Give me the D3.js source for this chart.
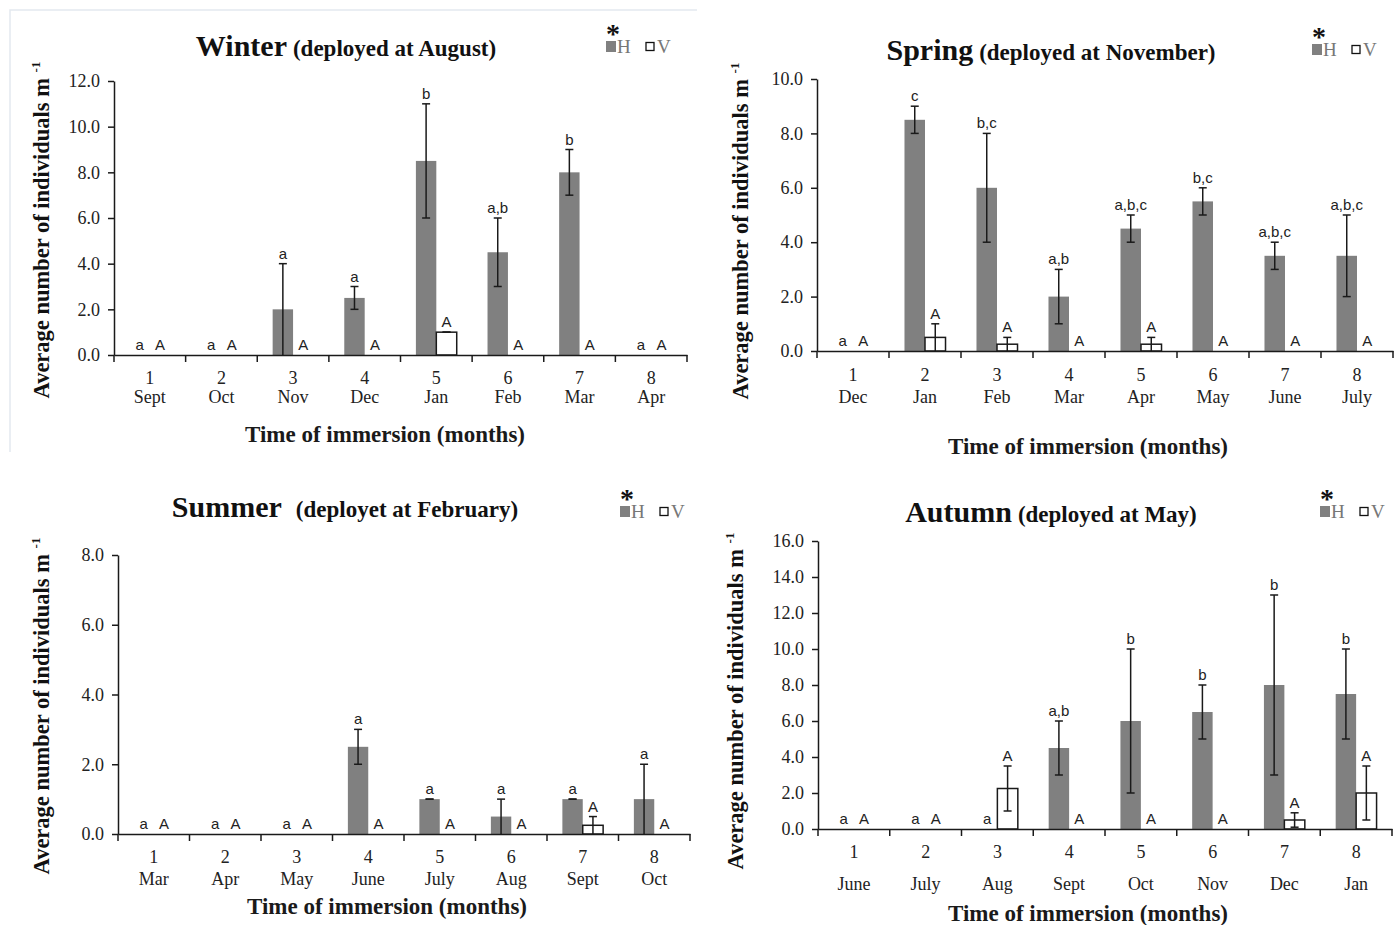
<!DOCTYPE html>
<html><head><meta charset="utf-8">
<script src="https://cdn.jsdelivr.net/npm/d3@7"></script>
<style>
body{margin:0;background:#fff;}
svg{display:block;}
</style></head><body>
<svg id="chart" width="1400" height="925"></svg>
<script>
// ---------- DATA ----------
const monthNumbers = ["1","2","3","4","5","6","7","8"];

const winterMonths = ["Sept","Oct","Nov","Dec","Jan","Feb","Mar","Apr"];
const winterH = [0,0,2,2.5,8.5,4.5,8,0];
const winterHErr = [0,0,2,0.5,2.5,1.5,1,0];
const winterV = [0,0,0,0,1,0,0,0];
const winterVErr = [0,0,0,0,0,0,0,0];
const winterHLetters = ["a","a","a","a","b","a,b","b","a"];
const winterVLetters = ["A","A","A","A","A","A","A","A"];
const winterTicks = [0,2,4,6,8,10,12];

const springMonths = ["Dec","Jan","Feb","Mar","Apr","May","June","July"];
const springH = [0,8.5,6,2,4.5,5.5,3.5,3.5];
const springHErr = [0,0.5,2,1,0.5,0.5,0.5,1.5];
const springV = [0,0.5,0.25,0,0.25,0,0,0];
const springVErr = [0,0.5,0.25,0,0.25,0,0,0];
const springHLetters = ["a","c","b,c","a,b","a,b,c","b,c","a,b,c","a,b,c"];
const springVLetters = ["A","A","A","A","A","A","A","A"];
const springTicks = [0,2,4,6,8,10];

const summerMonths = ["Mar","Apr","May","June","July","Aug","Sept","Oct"];
const summerH = [0,0,0,2.5,1,0.5,1,1];
const summerHErr = [0,0,0,0.5,0,0.5,0,1];
const summerV = [0,0,0,0,0,0,0.25,0];
const summerVErr = [0,0,0,0,0,0,0.25,0];
const summerHLetters = ["a","a","a","a","a","a","a","a"];
const summerVLetters = ["A","A","A","A","A","A","A","A"];
const summerTicks = [0,2,4,6,8];

const autumnMonths = ["June","July","Aug","Sept","Oct","Nov","Dec","Jan"];
const autumnH = [0,0,0,4.5,6,6.5,8,7.5];
const autumnHErr = [0,0,0,1.5,4,1.5,5,2.5];
const autumnV = [0,0,2.25,0,0,0,0.5,2];
const autumnVErr = [0,0,1.25,0,0,0,0.4,1.5];
const autumnHLetters = ["a","a","a","a,b","b","b","b","b"];
const autumnVLetters = ["A","A","A","A","A","A","A","A"];
const autumnTicks = [0,2,4,6,8,10,12,14,16];

// ---------- DRAWING ----------
const svg = d3.select("#chart");
const serif = '"Liberation Serif","Times New Roman",serif';
const sans = '"Liberation Sans",Arial,sans-serif';
const H_COLOR = "#808080";
const INK = "#1a1a1a";

// faint frame around the first panel
svg.append("path").attr("d","M10,452 L10,10 L697,10")
  .attr("fill","none").attr("stroke","#e4e9ef").attr("stroke-width",1.5);

function drawPanel(p) {
  const g = svg.append("g");
  const x = d3.scaleBand().domain(monthNumbers).range([p.left, p.right]);
  const y = d3.scaleLinear().domain([0, p.yMax]).range([p.bottom, p.top]);
  const bw = x.step() * 0.285;
  const cx = d => x(d) + x.bandwidth() / 2;

  const rows = monthNumbers.map((d, i) => ({
    d, h: p.H[i], he: p.HErr[i], v: p.V[i], ve: p.VErr[i],
    hl: p.HL[i], vl: p.VL[i]
  }));

  g.selectAll(".hbar").data(rows.filter(r => r.h > 0)).join("rect")
    .attr("x", r => cx(r.d) - bw).attr("width", bw)
    .attr("y", r => y(r.h)).attr("height", r => y(0) - y(r.h))
    .attr("fill", H_COLOR);

  g.selectAll(".vbar").data(rows.filter(r => r.v > 0)).join("rect")
    .attr("x", r => cx(r.d)).attr("width", bw)
    .attr("y", r => y(r.v)).attr("height", r => y(0) - y(r.v))
    .attr("fill", "#fff").attr("stroke", INK).attr("stroke-width", 1.5);

  // error bars
  const errs = [];
  rows.forEach(r => {
    if (r.h > 0) errs.push({ xc: cx(r.d) - bw / 2, lo: Math.max(0, r.h - r.he), hi: r.h + r.he });
    if (r.v > 0) errs.push({ xc: cx(r.d) + bw / 2, lo: Math.max(0, r.v - r.ve), hi: r.v + r.ve });
  });
  const eg = g.selectAll(".err").data(errs).join("g").attr("stroke", INK).attr("stroke-width", 1.5);
  eg.append("line").attr("x1", e => e.xc).attr("x2", e => e.xc).attr("y1", e => y(e.lo)).attr("y2", e => y(e.hi));
  eg.append("line").attr("x1", e => e.xc - 4).attr("x2", e => e.xc + 4).attr("y1", e => y(e.hi)).attr("y2", e => y(e.hi));
  eg.filter(e => e.lo > 0).append("line").attr("x1", e => e.xc - 4).attr("x2", e => e.xc + 4).attr("y1", e => y(e.lo)).attr("y2", e => y(e.lo));

  // letters
  const letters = [];
  rows.forEach(r => {
    letters.push({ xc: cx(r.d) - bw / 2, top: r.h > 0 ? r.h + r.he : 0, t: r.hl });
    letters.push({ xc: cx(r.d) + bw / 2, top: r.v > 0 ? r.v + r.ve : 0, t: r.vl });
  });
  g.selectAll(".lt").data(letters).join("text")
    .attr("x", l => l.xc).attr("y", l => y(l.top) - 5)
    .attr("text-anchor", "middle").attr("font-family", sans).attr("font-size", 15)
    .attr("fill", "#222").text(l => l.t);

  // y axis
  const yAxis = d3.axisLeft(y).tickValues(p.ticks).tickFormat(d3.format(".1f"))
    .tickSize(6).tickPadding(8).tickSizeOuter(0);
  g.append("g").attr("transform", `translate(${p.left},0)`).call(yAxis)
    .attr("font-family", serif)
    .call(a => a.selectAll("text").attr("font-family", serif).attr("font-size", 18).attr("fill", "#222"))
    .call(a => a.selectAll("line,path").attr("stroke", INK).attr("stroke-width", 1.5));

  // x axis
  const xAxis = d3.axisBottom(x).tickSize(0).tickFormat("").tickSizeOuter(0);
  g.append("g").attr("transform", `translate(0,${p.bottom})`).call(xAxis)
    .call(a => a.selectAll("path").attr("stroke", INK).attr("stroke-width", 1.5));
  const bounds = monthNumbers.map(d => x(d)).concat([x.range()[1]]);
  g.selectAll(".bt").data(bounds).join("line")
    .attr("x1", b => b).attr("x2", b => b).attr("y1", p.bottom).attr("y2", p.bottom + 7)
    .attr("stroke", INK).attr("stroke-width", 1.5);

  // category labels
  g.selectAll(".num").data(monthNumbers).join("text")
    .attr("x", d => cx(d)).attr("y", p.bottom + p.numDy)
    .attr("text-anchor", "middle").attr("font-family", serif).attr("font-size", 18).attr("fill", "#222")
    .text(d => d);
  g.selectAll(".mon").data(p.months).join("text")
    .attr("x", (m, i) => cx(monthNumbers[i])).attr("y", p.bottom + p.monDy)
    .attr("text-anchor", "middle").attr("font-family", serif).attr("font-size", 18).attr("fill", "#222")
    .text(m => m);

  // x title
  g.append("text").attr("x", p.xtX).attr("y", p.xtY).attr("text-anchor", "middle")
    .attr("font-family", serif).attr("font-weight", "bold").attr("font-size", 23).attr("fill", INK)
    .text("Time of immersion (months)");

  // y title
  const yt = g.append("text").attr("transform", `translate(${p.ytX},${p.ytY}) rotate(-90)`)
    .attr("text-anchor", "middle").attr("font-family", serif).attr("font-weight", "bold")
    .attr("font-size", 22.5).attr("fill", "#111");
  yt.append("tspan").text("Average number of individuals m ");
  yt.append("tspan").attr("font-size", 13).attr("dy", -9).text("-1");

  // main title
  const tt = g.append("text").attr("x", p.tX).attr("y", p.tY).attr("text-anchor", "middle")
    .attr("font-family", serif).attr("font-weight", "bold").attr("fill", "#111");
  tt.append("tspan").attr("font-size", 30).text(p.title);
  tt.append("tspan").attr("font-size", 23).attr("dx", p.tGap).text(p.sub);

  // legend
  const lg = g.append("g").attr("transform", `translate(${p.lgX},${p.lgY})`);
  lg.append("text").attr("x", 7).attr("y", 2).attr("text-anchor", "middle")
    .attr("font-family", serif).attr("font-weight", "bold").attr("font-size", 28).attr("fill", "#111").text("*");
  lg.append("rect").attr("x", 0).attr("y", 0).attr("width", 10).attr("height", 11).attr("fill", H_COLOR);
  lg.append("text").attr("x", 11).attr("y", 12).attr("font-family", serif).attr("font-size", 19)
    .attr("fill", "#777").text("H");
  lg.append("rect").attr("x", 40).attr("y", 1.5).attr("width", 8).attr("height", 8)
    .attr("fill", "#fff").attr("stroke", "#111").attr("stroke-width", 1.3);
  lg.append("text").attr("x", 51).attr("y", 12).attr("font-family", serif).attr("font-size", 19)
    .attr("fill", "#777").text("V");
}

drawPanel({
  left: 114, right: 687, bottom: 355, top: 81, yMax: 12, ticks: winterTicks,
  months: winterMonths, H: winterH, HErr: winterHErr, V: winterV, VErr: winterVErr,
  HL: winterHLetters, VL: winterVLetters,
  numDy: 29, monDy: 48, xtX: 385, xtY: 442, ytX: 49, ytY: 230,
  title: "Winter", sub: "(deployed at August)", tX: 346, tY: 56, tGap: 6,
  lgX: 606, lgY: 41
});
drawPanel({
  left: 817, right: 1393, bottom: 351, top: 79, yMax: 10, ticks: springTicks,
  months: springMonths, H: springH, HErr: springHErr, V: springV, VErr: springVErr,
  HL: springHLetters, VL: springVLetters,
  numDy: 30, monDy: 52, xtX: 1088, xtY: 454, ytX: 748, ytY: 231,
  title: "Spring", sub: "(deployed at November)", tX: 1051, tY: 60, tGap: 6,
  lgX: 1312, lgY: 44
});
drawPanel({
  left: 118, right: 690, bottom: 834, top: 555, yMax: 8, ticks: summerTicks,
  months: summerMonths, H: summerH, HErr: summerHErr, V: summerV, VErr: summerVErr,
  HL: summerHLetters, VL: summerVLetters,
  numDy: 29, monDy: 51, xtX: 387, xtY: 914, ytX: 49, ytY: 706,
  title: "Summer", sub: "(deployet at February)", tX: 345, tY: 517, tGap: 14,
  lgX: 620, lgY: 506
});
drawPanel({
  left: 818, right: 1392, bottom: 829, top: 541, yMax: 16, ticks: autumnTicks,
  months: autumnMonths, H: autumnH, HErr: autumnHErr, V: autumnV, VErr: autumnVErr,
  HL: autumnHLetters, VL: autumnVLetters,
  numDy: 29, monDy: 61, xtX: 1088, xtY: 921, ytX: 743, ytY: 701,
  title: "Autumn", sub: "(deployed at May)", tX: 1051, tY: 522, tGap: 6,
  lgX: 1320, lgY: 506
});
</script>
</body></html>
